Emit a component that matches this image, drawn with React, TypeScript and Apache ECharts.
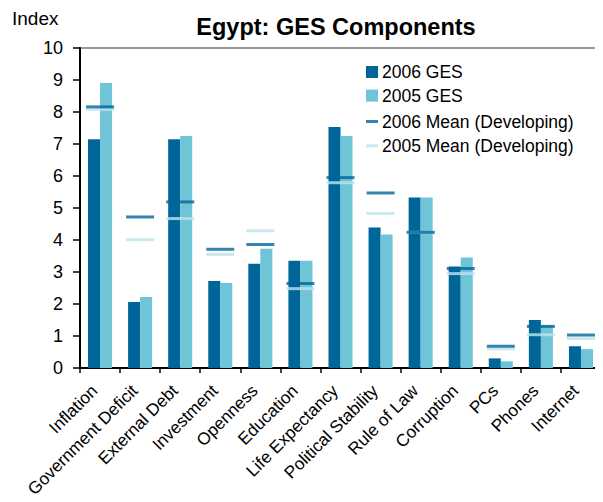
import React, { useEffect, useRef } from "react";
import * as echarts from "echarts";

const categories = [
  "Inflation", "Government Deficit", "External Debt", "Investment", "Openness",
  "Education", "Life Expectancy", "Political Stability", "Rule of Law",
  "Corruption", "PCs", "Phones", "Internet",
];
const ges2006 = [7.15, 2.06, 7.15, 2.72, 3.26, 3.35, 7.53, 4.39, 5.33, 3.17, 0.3, 1.5, 0.68];
const ges2005 = [8.91, 2.22, 7.25, 2.66, 3.73, 3.35, 7.25, 4.17, 5.33, 3.45, 0.21, 1.34, 0.59];
const mean2006 = [8.16, 4.72, 5.19, 3.71, 3.86, 2.64, 5.95, 5.47, 4.24, 3.11, 0.68, 1.3, 1.03];
const mean2005 = [8.08, 4.01, 4.67, 3.55, 4.29, 2.48, 5.79, 4.83, 4.24, 2.95, 0.6, 1.04, 0.92];
const yTicks = [0, 1, 2, 3, 4, 5, 6, 7, 8, 9, 10];

const DARK = "#006699";
const LIGHT = "#70C4D8";
const MEAN_DARK = "#00679A";
const MEAN_LIGHT = "#BDE4EE";
const FONT = "Liberation Sans, Arial, sans-serif";

export default function App() {
  const ref = useRef<HTMLDivElement>(null);
  useEffect(() => {
    if (!ref.current) return;
    const chart = echarts.init(ref.current, null, { renderer: "svg" });
    chart.setOption({
      animation: false,
      textStyle: { fontFamily: FONT, color: "#000" },
      title: {
        text: "Egypt: GES Components",
        left: 336,
        textAlign: "center",
        top: 15,
        padding: 0,
        textStyle: { fontFamily: FONT, fontSize: 23.5, fontWeight: "bold", color: "#000" },
      },
      graphic: [
        {
          type: "text",
          left: 12,
          top: 9,
          style: { text: "Index", fontFamily: FONT, fontSize: 19, fill: "#000" },
        },
      ],
      legend: [
        {
          orient: "vertical",
          left: 366,
          top: 63,
          padding: 0,
          itemWidth: 12,
          itemHeight: 12,
          itemGap: 5.6,
          icon: "rect",
          textStyle: { fontFamily: FONT, fontSize: 17.5, lineHeight: 17, color: "#000", padding: [0, 0, 0, -1] },
          data: ["2006 GES", "2005 GES"],
        },
        {
          orient: "vertical",
          left: 366,
          top: 112.5,
          padding: 0,
          itemWidth: 12,
          itemHeight: 3,
          itemGap: 6.3,
          icon: "rect",
          textStyle: { fontFamily: FONT, fontSize: 17.5, lineHeight: 17, color: "#000", padding: [0, 0, 0, -1] },
          data: ["2006 Mean (Developing)", "2005 Mean (Developing)"],
        },
      ],
      grid: {
        left: 80,
        right: 2,
        top: 48,
        bottom: 134,
        show: true,
        borderColor: "#333",
        borderWidth: 1,
        containLabel: false,
        outerBoundsMode: "none",
      },
      xAxis: {
        type: "category",
        data: categories,
        axisLine: { lineStyle: { color: "#000", width: 2 } },
        axisTick: { show: true, length: 5, lineStyle: { color: "#000", width: 1.5 } },
        axisLabel: {
          interval: 0,
          rotate: 45,
          fontFamily: FONT,
          fontSize: 17.2,
          color: "#000",
          margin: 14,
          padding: [0, 8, 0, 0],
        },
      },
      yAxis: {
        type: "value",
        min: 0,
        max: 10,
        interval: 1,
        splitLine: { show: false },
        axisLine: { show: true, lineStyle: { color: "#000", width: 2 } },
        axisTick: { show: true, length: 7, lineStyle: { color: "#000", width: 1.5 } },
        axisLabel: {
          fontFamily: FONT,
          fontSize: 18,
          color: "#000",
          margin: 17,
          formatter: (v: number) => (yTicks.includes(v) ? String(v) : ""),
        },
      },
      series: [
        {
          name: "2006 GES",
          type: "bar",
          data: ges2006,
          barGap: "0%",
          barCategoryGap: "40%",
          itemStyle: { color: DARK },
        },
        {
          name: "2005 GES",
          type: "bar",
          data: ges2005,
          barGap: "0%",
          barCategoryGap: "40%",
          itemStyle: { color: LIGHT },
        },
        {
          name: "2006 Mean (Developing)",
          type: "scatter",
          data: mean2006,
          symbol: "rect",
          symbolSize: [28, 3],
          itemStyle: { color: MEAN_DARK },
          z: 5,
        },
        {
          name: "2005 Mean (Developing)",
          type: "scatter",
          data: mean2005,
          symbol: "rect",
          symbolSize: [28, 3],
          itemStyle: { color: MEAN_LIGHT },
          z: 4,
        },
      ],
    });
    return () => chart.dispose();
  }, []);
  return <div ref={ref} style={{ width: 603, height: 502, marginLeft: -8, marginTop: -8 }} />;
}
